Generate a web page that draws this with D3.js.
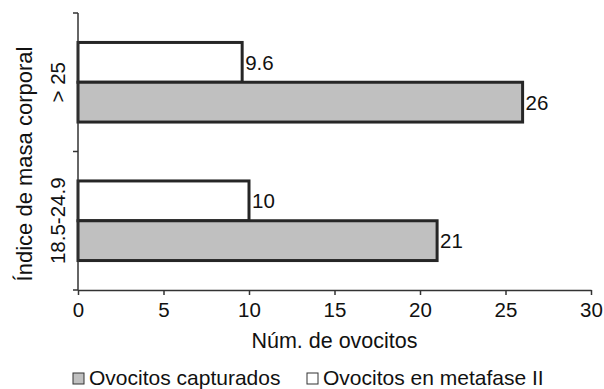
<!DOCTYPE html>
<html>
<head>
<meta charset="utf-8">
<script src="https://cdn.jsdelivr.net/npm/d3@7"></script>
<style>
  body { margin: 0; background: #fff; }
  svg { display: block; font-family: "Liberation Sans", Arial, sans-serif; }
</style>
</head>
<body>
<div id="chart"></div>
<script>
// data
const categories = ['> 25', '18.5-24.9'];
const seriesNames = ['Ovocitos en metafase II', 'Ovocitos capturados'];
const metafaseII = [9.6, 10];
const capturados = [26, 21];
const valueLabels = { 'Ovocitos en metafase II': ['9.6', '10'], 'Ovocitos capturados': ['26', '21'] };
const xTicks = [0, 5, 10, 15, 20, 25, 30];

const W = 604, H = 389;
const plot = { left: 78, right: 591, top: 13, bottom: 290 };
const ink = '#262626';

const svg = d3.select('#chart').append('svg')
    .attr('width', W).attr('height', H);

const x = d3.scaleLinear().domain([0, 30]).range([plot.left, plot.right]);
const y = d3.scaleBand().domain(categories).range([plot.top, plot.bottom]).padding(0);
const ySub = d3.scaleBand().domain(seriesNames)
    .range([0, y.bandwidth()]).paddingInner(0).paddingOuter(0.74);

const fills = { 'Ovocitos en metafase II': '#ffffff', 'Ovocitos capturados': '#c0c0c0' };
const rows = [];
categories.forEach((c, i) => {
    rows.push({ cat: c, s: seriesNames[0], v: metafaseII[i], label: valueLabels[seriesNames[0]][i] });
    rows.push({ cat: c, s: seriesNames[1], v: capturados[i], label: valueLabels[seriesNames[1]][i] });
});

// bars
svg.append('g').selectAll('rect')
    .data(rows).join('rect')
    .attr('x', x(0))
    .attr('y', d => y(d.cat) + ySub(d.s))
    .attr('width', d => x(d.v) - x(0))
    .attr('height', ySub.bandwidth())
    .attr('fill', d => fills[d.s])
    .attr('stroke', ink)
    .attr('stroke-width', 3);

// value labels
svg.append('g').selectAll('text')
    .data(rows).join('text')
    .attr('x', d => x(d.v) + 3)
    .attr('y', d => y(d.cat) + ySub(d.s) + ySub.bandwidth() / 2)
    .attr('dy', '0.36em')
    .attr('font-size', '20.5px')
    .attr('fill', '#111')
    .text(d => d.label);

// x axis
const xAxis = svg.append('g')
    .attr('transform', `translate(0,${plot.bottom})`)
    .call(d3.axisBottom(x).tickValues(xTicks).tickSize(5).tickSizeOuter(0));
xAxis.select('.domain').attr('stroke', '#333').attr('stroke-width', 1.5);
xAxis.selectAll('.tick line').attr('stroke', '#333').attr('stroke-width', 1.5);
xAxis.selectAll('.tick text')
    .attr('y', 27).attr('dy', null)
    .attr('font-size', '20.5px').attr('font-family', null).attr('fill', '#111');

// y axis: ticks at category boundaries
const yBounds = [plot.top].concat(categories.map(c => y(c) + y.bandwidth()));
const yAxis = svg.append('g');
yAxis.append('line')
    .attr('x1', plot.left).attr('x2', plot.left)
    .attr('y1', plot.top).attr('y2', plot.bottom)
    .attr('stroke', '#333').attr('stroke-width', 1.5);
yAxis.selectAll('.yt')
    .data(yBounds).join('line')
    .attr('class', 'yt')
    .attr('x1', plot.left - 5).attr('x2', plot.left)
    .attr('y1', d => d).attr('y2', d => d)
    .attr('stroke', '#333').attr('stroke-width', 1.5);

// category labels (rotated)
svg.append('g').selectAll('text')
    .data(categories).join('text')
    .attr('transform', d => `translate(65,${y(d) + y.bandwidth() / 2}) rotate(-90)`)
    .attr('text-anchor', 'middle')
    .attr('font-size', '20.5px')
    .attr('fill', '#111')
    .text(d => d);

// axis titles
svg.append('text')
    .attr('transform', 'translate(32,164) rotate(-90)')
    .attr('text-anchor', 'middle')
    .attr('font-size', '22px')
    .attr('fill', '#111')
    .text('Índice de masa corporal');

svg.append('text')
    .attr('x', (plot.left + plot.right) / 2)
    .attr('y', 348)
    .attr('text-anchor', 'middle')
    .attr('font-size', '21.5px')
    .attr('fill', '#111')
    .text('Núm. de ovocitos');

// legend
const legendItems = [
    { name: 'Ovocitos capturados', x: 73 },
    { name: 'Ovocitos en metafase II', x: 307 }
];
const lg = svg.append('g').selectAll('g')
    .data(legendItems).join('g')
    .attr('transform', d => `translate(${d.x},373)`);
lg.append('rect')
    .attr('width', 11).attr('height', 11)
    .attr('fill', d => fills[d.name])
    .attr('stroke', '#333').attr('stroke-width', 1);
lg.append('text')
    .attr('x', 16).attr('y', 12)
    .attr('font-size', '21px')
    .attr('fill', '#111')
    .text(d => d.name);
</script>
</body>
</html>
